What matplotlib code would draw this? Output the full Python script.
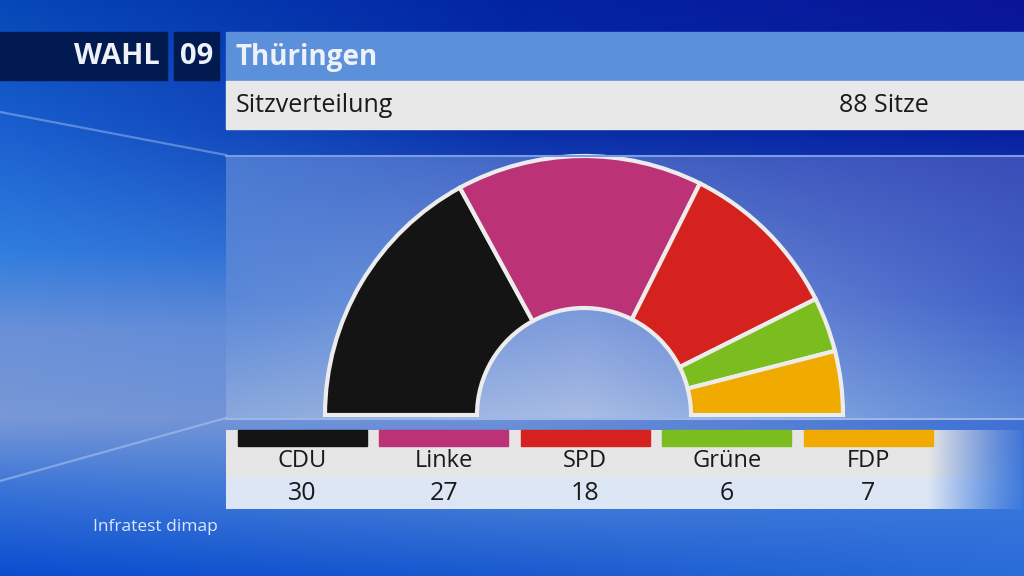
import numpy as np
import matplotlib.pyplot as plt
from matplotlib.patches import Wedge, Rectangle
from matplotlib.colors import to_rgb

# data
parties = ["CDU", "Linke", "SPD", "Grüne", "FDP"]
seats = [30, 27, 18, 6, 7]
colors = ["#141414", "#bc3276", "#d6221f", "#7bbd1e", "#f0aa00"]
total_seats = 88
title = "Thüringen"
subtitle = "Sitzverteilung"
source = "Infratest dimap"

plt.rcParams['font.family'] = ['Open Sans', 'DejaVu Sans']


def grad(xs, ys, cols, w, h):
    # bilinear blend of a small grid of control colours
    c = np.array([[to_rgb(v) for v in row] for row in cols])
    gx = np.linspace(xs[0], xs[-1], w)
    gy = np.linspace(ys[0], ys[-1], h)
    tmp = np.stack([np.stack([np.interp(gx, xs, c[j, :, k]) for k in range(3)], -1)
                    for j in range(len(ys))])
    out = np.stack([np.stack([np.interp(gy, ys, tmp[:, i, k]) for k in range(3)], -1)
                    for i in range(w)], 1)
    return out


fig = plt.figure(figsize=(10.24, 5.76), dpi=100)
ax = fig.add_axes([0, 0, 1, 1])
ax.axis('off')

# background
bg = grad([0, 512, 1024], [0, 130, 250, 330, 420, 490, 576],
          [["#0648b8", "#0224a4", "#0a1598"],
           ["#1a60d0", "#0a30a8", "#0820a0"],
           ["#2f7ddf", "#3060c8", "#2050c0"],
           ["#6a90d8", "#5a88d8", "#3060cc"],
           ["#7898d6", "#6c90d8", "#4070d4"],
           ["#3a74d8", "#4a80d8", "#3a78dc"],
           ["#0a4ed0", "#1a5ad0", "#2a6cd8"]], 256, 144)
ax.imshow(bg, extent=(0, 1024, 576, 0), origin='upper', interpolation='bilinear')

# decorative lines
ax.plot([0, 226], [112, 155], color="#9fbcf0", lw=1.6, alpha=0.5)
ax.plot([0, 226], [481, 418], color="#b8ccf0", lw=1.6, alpha=0.5)

# chart panel
panel = grad([226, 584, 1024], [155, 300, 418],
             [["#4a7ad2", "#4262c4", "#3a4eb8"],
              ["#5a88d8", "#7896da", "#4262c8"],
              ["#8aa8dc", "#a8bde4", "#5a88d8"]], 200, 66)
ax.imshow(panel, extent=(226, 1024, 418, 155), origin='upper', interpolation='bilinear')
ax.plot([226, 1024], [156, 156], color="#7c9ce0", lw=1.5)
ax.plot([226, 1024], [418.5, 418.5], color="#9cb6e8", lw=1.5)

# header
ax.add_patch(Rectangle((0, 32), 167, 48, color="#011a4f"))
ax.add_patch(Rectangle((174, 32), 45, 48, color="#011a4f"))
ax.add_patch(Rectangle((226, 32), 798, 49, color="#5b90db"))
ax.add_patch(Rectangle((226, 81), 798, 48, color="#e8e8e8"))
ax.text(160, 57, "WAHL", color="#eef1f8", fontsize=21, fontweight='bold', ha='right', va='center')
ax.text(196.5, 57, "09", color="#eef1f8", fontsize=21, fontweight='bold', ha='center', va='center')
ax.text(236, 57, title, color="#eef2f8", fontsize=20, fontweight='bold', ha='left', va='center')
ax.text(236, 105, subtitle, color="#1a1a1a", fontsize=18, fontweight='medium', ha='left', va='center')
ax.text(929, 105, f"{total_seats} Sitze", color="#1a1a1a", fontsize=18, fontweight='medium',
        ha='right', va='center')

# half donut
cx, cy = 584, 415
r_out, r_in = 259, 107
cum = np.concatenate([[0], np.cumsum(seats)])
for i, p in enumerate(parties):
    t1 = 180 + cum[i] * 180 / total_seats
    t2 = 180 + cum[i + 1] * 180 / total_seats
    ax.add_patch(Wedge((cx, cy), r_out, t1, t2, width=r_out - r_in,
                       facecolor=colors[i], edgecolor="#ececec", lw=3, joinstyle='miter'))

# legend rows, fading out on the right
def fade_row(y0, y1, col, x0=226, x1=1022, fs=930):
    w = 400
    xs = np.linspace(x0, x1, w)
    a = np.clip((x1 - xs) / (x1 - fs), 0, 1) * 0.9 + 0.1
    a = np.where(xs < fs, 1.0, a ** 1.3)
    img = np.zeros((2, w, 4))
    img[..., :3] = to_rgb(col)
    img[..., 3] = a
    ax.imshow(img, extent=(x0, x1, y1, y0), origin='upper', interpolation='bilinear')

fade_row(430, 478, "#e6e6e6")
fade_row(478, 509, "#dce6f5")

for i, p in enumerate(parties):
    x0 = 238 + i * 141.4
    ax.add_patch(Rectangle((x0, 430), 129, 16, color=colors[i]))
    ax.text(x0 + 64.5, 461, p, color="#1a1a1a", fontsize=17, ha='center', va='center')
    ax.text(x0 + 64.5, 494, str(seats[i]), color="#1a1a1a", fontsize=18, fontweight='medium',
            ha='center', va='center')

ax.text(93, 527, source, color="#dbe6fa", fontsize=12.5, ha='left', va='center')

ax.set_xlim(0, 1024)
ax.set_ylim(576, 0)
ax.set_aspect('auto')
fig.savefig("out.png", dpi=100)
